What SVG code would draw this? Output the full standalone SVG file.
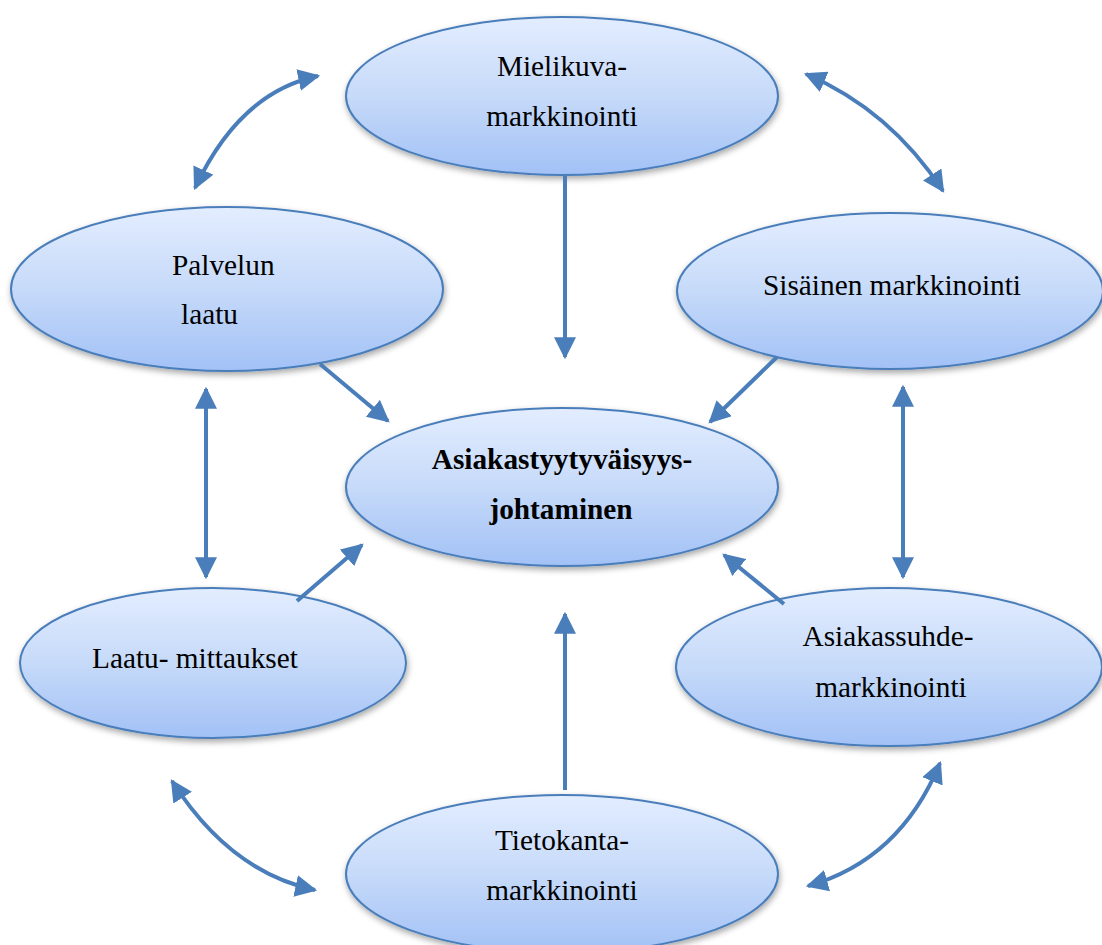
<svg xmlns="http://www.w3.org/2000/svg" width="1102" height="945" viewBox="0 0 1102 945">
<defs>
<linearGradient id="g" x1="0" y1="0" x2="0" y2="1">
<stop offset="0" stop-color="#e3edff"/>
<stop offset="0.5" stop-color="#c6daf9"/>
<stop offset="1" stop-color="#a2c1f6"/>
</linearGradient>
<filter id="sh" x="-10%" y="-10%" width="120%" height="130%">
<feDropShadow dx="1" dy="3" stdDeviation="3" flood-color="#000" flood-opacity="0.35"/>
</filter>
<marker id="ah" viewBox="0 0 10 10" refX="9" refY="5" markerWidth="22" markerHeight="22" markerUnits="userSpaceOnUse" orient="auto-start-reverse">
<path d="M0,0 L10,5 L0,10 Z" fill="#4a7ebb"/>
</marker>
<style>
.n ellipse{fill:url(#g);stroke:#4a7ebb;stroke-width:2;filter:url(#sh)}
.t{font-family:"Liberation Serif","Times New Roman",serif;font-size:29.3px;fill:#000}
.b{font-weight:bold}
.c path{fill:none;stroke:#4a7ebb;stroke-width:4}
</style>
</defs>
<g id="mielikuva" class="n"><ellipse cx="562" cy="96" rx="216" ry="79"/><text class="t" x="562" y="76" text-anchor="middle">Mielikuva-</text><text class="t" x="562" y="126" text-anchor="middle">markkinointi</text></g>
<g id="palvelun" class="n"><ellipse cx="227" cy="289" rx="216" ry="82"/><text class="t" x="172" y="275">Palvelun</text><text class="t" x="181" y="324">laatu</text></g>
<g id="sisainen" class="n"><ellipse cx="890" cy="291" rx="213" ry="78"/><text class="t" x="763" y="295">Sisäinen markkinointi</text></g>
<g id="center" class="n"><ellipse cx="562" cy="487" rx="216" ry="79"/><text class="t b" x="562" y="469" text-anchor="middle">Asiakastyytyväisyys-</text><text class="t b" x="561" y="519" text-anchor="middle">johtaminen</text></g>
<g id="laatumittaukset" class="n"><ellipse cx="213" cy="663" rx="193" ry="75"/><text class="t" x="92" y="668">Laatu- mittaukset</text></g>
<g id="asiakassuhde" class="n"><ellipse cx="889" cy="667" rx="213" ry="79"/><text class="t" x="888" y="646" text-anchor="middle">Asiakassuhde-</text><text class="t" x="891" y="697" text-anchor="middle">markkinointi</text></g>
<g id="tietokanta" class="n"><ellipse cx="562" cy="874" rx="216" ry="79"/><text class="t" x="562" y="850" text-anchor="middle">Tietokanta-</text><text class="t" x="562" y="900" text-anchor="middle">markkinointi</text></g>
<g id="connectors" class="c">
<path d="M565,176 L565,357" marker-end="url(#ah)"/>
<path d="M320,364 L388,421" marker-end="url(#ah)"/>
<path d="M777,357 L710,422" marker-end="url(#ah)"/>
<path d="M565,790 L565,614" marker-end="url(#ah)"/>
<path d="M297,601 L362,545" marker-end="url(#ah)"/>
<path d="M784,604 L724,555" marker-end="url(#ah)"/>
<path d="M206,389 L206,577" marker-start="url(#ah)" marker-end="url(#ah)"/>
<path d="M903,387 L903,577" marker-start="url(#ah)" marker-end="url(#ah)"/>
<path d="M195,188 Q240,92 318,76" marker-start="url(#ah)" marker-end="url(#ah)"/>
<path d="M806,74 Q890,110 943,191" marker-start="url(#ah)" marker-end="url(#ah)"/>
<path d="M172,781 Q230,872 315,890" marker-start="url(#ah)" marker-end="url(#ah)"/>
<path d="M808,886 Q900,860 940,763" marker-start="url(#ah)" marker-end="url(#ah)"/>
</g>
</svg>
